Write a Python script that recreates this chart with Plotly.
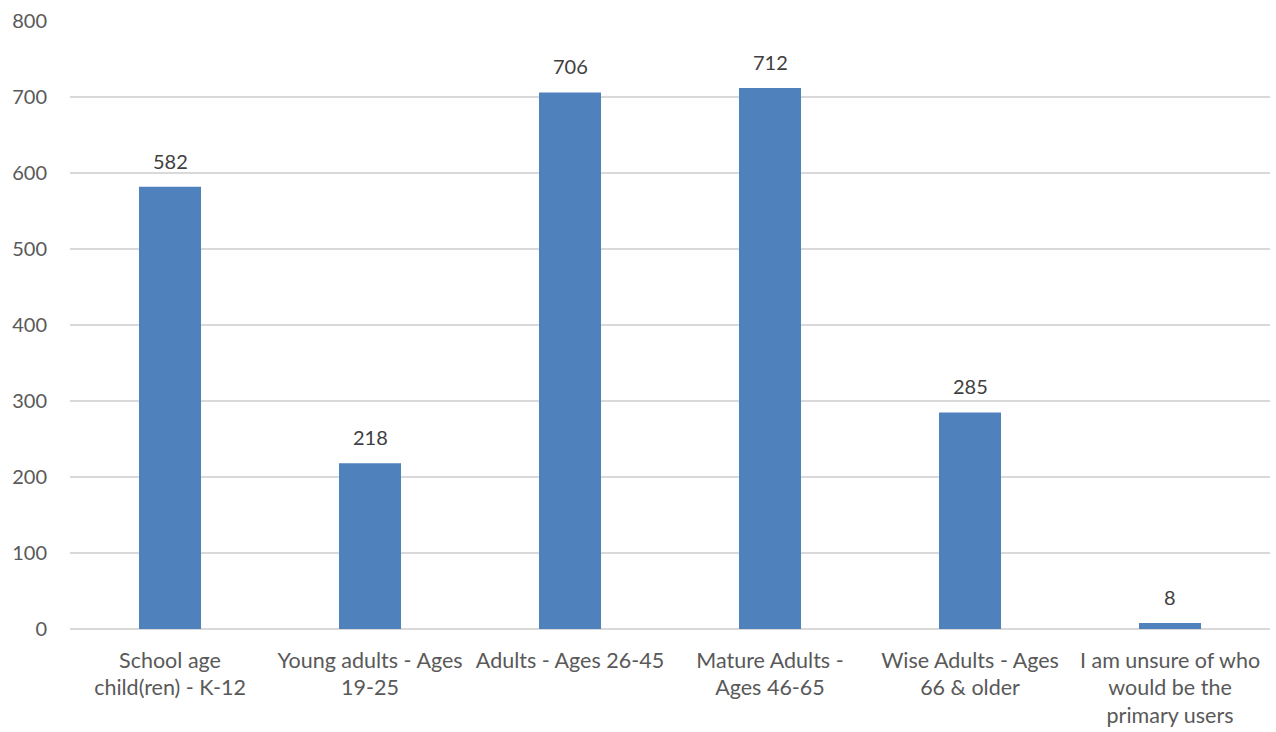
import plotly.graph_objects as go

categories = [
    "School age<br>child(ren) - K-12",
    "Young adults - Ages<br>19-25",
    "Adults - Ages 26-45",
    "Mature Adults -<br>Ages 46-65",
    "Wise Adults - Ages<br>66 & older",
    "I am unsure of who<br>would be the<br>primary users",
]
values = [582, 218, 706, 712, 285, 8]
y_ticks = [0, 100, 200, 300, 400, 500, 600, 700, 800]

font_family = "Lato, Carlito, Open Sans, sans-serif"
text_color = "#595959"

fig = go.Figure(
    go.Bar(
        x=categories,
        y=values,
        marker=dict(color="#4F81BD", line=dict(width=0)),
        width=0.31,
        hoverinfo="skip",
    )
)

for c, v in zip(categories, values):
    fig.add_annotation(
        x=c, y=v, text=str(v), showarrow=False,
        yanchor="bottom", yshift=12,
        font=dict(family=font_family, size=20, color="#404040"),
    )

fig.update_layout(
    width=1276,
    height=732,
    margin=dict(l=70, r=6, t=21, b=103),
    paper_bgcolor="white",
    plot_bgcolor="white",
    font=dict(family=font_family, size=20, color=text_color),
    showlegend=False,
    bargap=0.69,
)
fig.update_xaxes(
    showgrid=False,
    showline=False,
    ticks="",
    automargin=False,
    tickfont=dict(family=font_family, size=21.5, color=text_color),
    ticklabelstandoff=16,
    tickangle=0,
)
fig.update_yaxes(
    range=[0, 800],
    tickvals=y_ticks,
    showgrid=True,
    gridcolor="#D9D9D9",
    gridwidth=1.5,
    zeroline=True,
    zerolinecolor="#D9D9D9",
    zerolinewidth=1.5,
    showline=False,
    ticks="",
    automargin=False,
    tickfont=dict(family=font_family, size=20, color=text_color),
    ticklabelstandoff=22,
)

fig.write_html("out.html")
